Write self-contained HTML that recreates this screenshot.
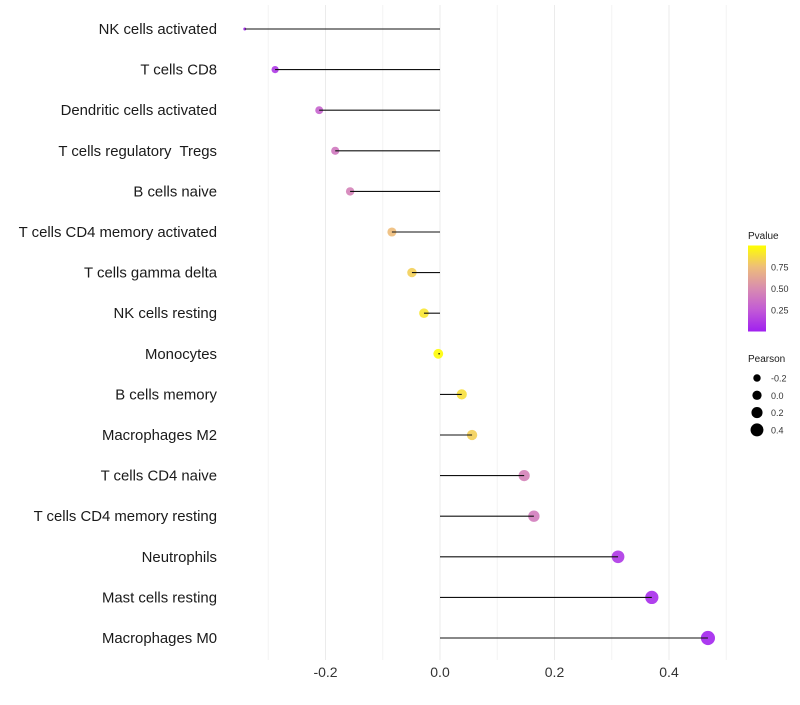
<!DOCTYPE html>
<html><head><meta charset="utf-8"><style>
body{margin:0;background:#fff;font-family:"Liberation Sans",sans-serif}
text{white-space:pre}
</style></head><body>
<svg id="chart" width="800" height="700" xmlns="http://www.w3.org/2000/svg">
<defs><linearGradient id="pg" x1="0" y1="1" x2="0" y2="0">
<stop offset="0" stop-color="#a020f0"/><stop offset="0.25" stop-color="#c25ad6"/><stop offset="0.5" stop-color="#d88cb0"/><stop offset="0.75" stop-color="#eebd7a"/><stop offset="1" stop-color="#ffff00"/></linearGradient></defs>
<g id="grid"></g><g id="points"></g><g id="marks"></g><g id="labels"></g><g id="legend"></g>
</svg>
<script>
const categories=["NK cells activated","T cells CD8","Dendritic cells activated","T cells regulatory  Tregs","B cells naive","T cells CD4 memory activated","T cells gamma delta","NK cells resting","Monocytes","B cells memory","Macrophages M2","T cells CD4 naive","T cells CD4 memory resting","Neutrophils","Mast cells resting","Macrophages M0"];
const pearson=[-0.341,-0.288,-0.211,-0.183,-0.157,-0.084,-0.049,-0.028,-0.003,0.038,0.056,0.147,0.164,0.311,0.370,0.468];
const pvalue=[0.02,0.1,0.3,0.4,0.45,0.75,0.82,0.9,0.99,0.88,0.82,0.45,0.42,0.1,0.05,0.02];
const xTicks=[-0.2,0,0.2,0.4];
const xTickLabels=["-0.2","0.0","0.2","0.4"];
const pTicks=[0.25,0.5,0.75];
const sizeTicks=[-0.2,0,0.2,0.4];
const NS="http://www.w3.org/2000/svg";
const X=v=>440+v*572.5;
const Y=i=>29+i*40.6;
const R=v=>v>=-0.288?3.6+(v+0.288)*4.6:Math.max(1.4,3.6+(v+0.288)*40);
const stops=[[0,[160,32,240]],[0.25,[194,90,214]],[0.5,[216,140,176]],[0.75,[238,189,122]],[1,[255,255,0]]];
function col(p){for(let k=1;k<stops.length;k++){if(p<=stops[k][0]){const a=stops[k-1],b=stops[k],t=(p-a[0])/(b[0]-a[0]);return `rgb(${a[1].map((c,j)=>Math.round(c+(b[1][j]-c)*t)).join(',')})`;}}return "rgb(255,255,0)";}
function el(t,at,parent,txt){const e=document.createElementNS(NS,t);for(const k in at)e.setAttribute(k,at[k]);if(txt!==undefined)e.textContent=txt;parent.appendChild(e);return e;}
const grid=document.getElementById('grid'),points=document.getElementById('points'),marks=document.getElementById('marks'),labels=document.getElementById('labels'),legend=document.getElementById('legend');
for(let v=-0.3;v<=0.51;v+=0.1){const g=el('line',{x1:X(v),x2:X(v),y1:5,y2:660,stroke:Math.abs(Math.round(v*10))%2===0?'#ebebeb':'#f3f3f3','stroke-width':1},grid);

}
xTicks.forEach((v,i)=>{const t=el('text',{x:X(v),y:677,'text-anchor':'middle','font-size':14,fill:'#333'},labels,xTickLabels[i]);

});
categories.forEach((c,i)=>{
const t=el('text',{x:217,y:Y(i)+5,'text-anchor':'end','font-size':14.9,fill:'#1a1a1a'},labels,c);


const p=el('circle',{cx:X(pearson[i]),cy:Y(i),r:R(pearson[i]),fill:col(pvalue[i]),'fill-opacity':0.9},points);


const l=el('line',{x1:X(pearson[i]),x2:X(0),y1:Y(i),y2:Y(i),stroke:'#111','stroke-width':1.1},marks);


});
const lt=el('text',{x:748,y:239,'font-size':10,fill:'#1a1a1a'},legend,'Pvalue');


const cb=el('rect',{x:748,y:245.5,width:18,height:86,fill:'url(#pg)'},legend);


pTicks.forEach(v=>{const y=331.5-v*86;const t=el('text',{x:771,y:y+3.5,'font-size':9,fill:'#333'},legend,v.toFixed(2));

});
const st=el('text',{x:748,y:362,'font-size':10,fill:'#1a1a1a'},legend,'Pearson');


sizeTicks.forEach((v,i)=>{const y=378+i*17.3;const c=el('circle',{cx:757,cy:y,r:R(v)-0.3,fill:'#000'},legend);


const t=el('text',{x:771,y:y+3.5,'font-size':9,fill:'#333'},legend,v.toFixed(1));

});
</script>
</body></html>
